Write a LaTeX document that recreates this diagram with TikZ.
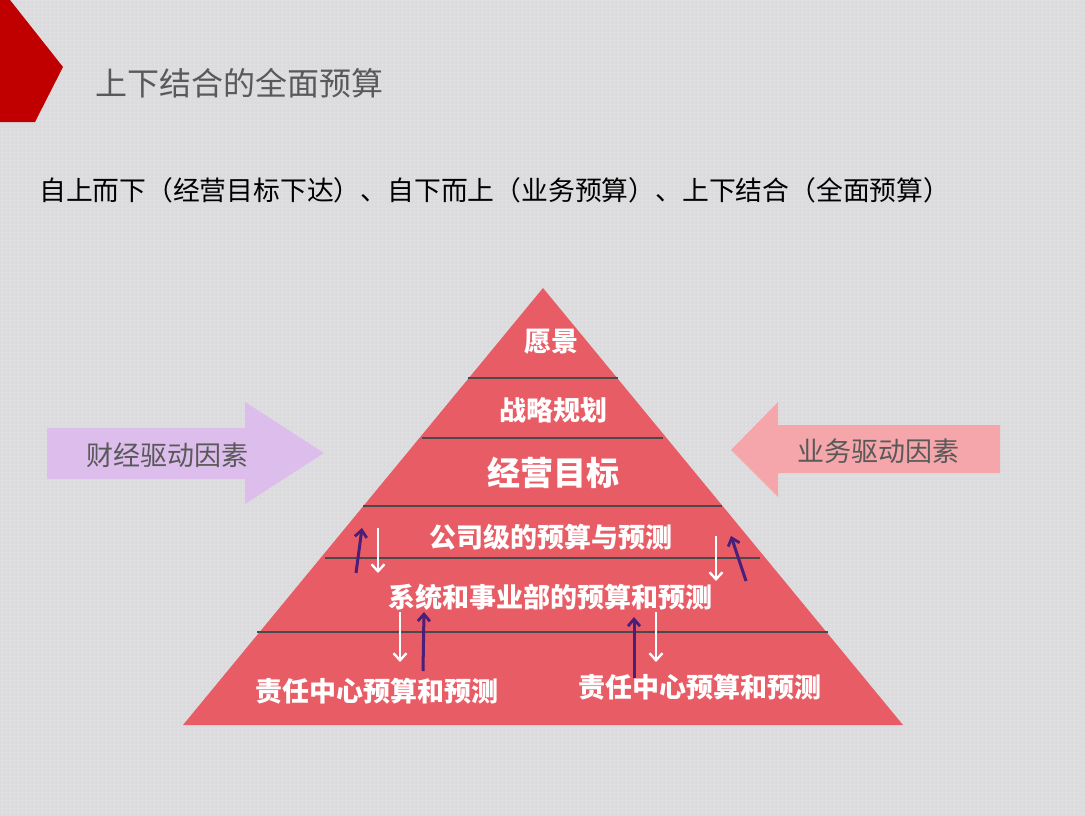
\documentclass[tikz,border=0pt]{standalone}
\usepackage{fontspec}
\setmainfont{Noto Sans CJK SC}
\usetikzlibrary{arrows.meta,patterns.meta}
\definecolor{bg}{HTML}{DCDCDE}
\definecolor{dotc}{HTML}{F2F2F4}
\definecolor{cornerred}{HTML}{C00000}
\definecolor{pyr}{HTML}{E85C66}
\definecolor{sepc}{HTML}{4A4A4C}
\definecolor{lav}{HTML}{DCBDEC}
\definecolor{pinkc}{HTML}{F4A6AA}
\definecolor{greytxt}{HTML}{595959}
\definecolor{upc}{HTML}{4B1E78}
\tikzset{
  sepline/.style={draw=sepc,line width=2pt},
  lvl/.style={text=white,font=\bfseries\fontsize{27}{30}\selectfont,inner sep=0pt},
  side/.style={text=greytxt,font=\fontsize{27}{30}\selectfont,inner sep=0pt},
  uparr/.style={draw=upc,line width=3pt,-{Straight Barb[length=7pt,width=12pt,line width=2.8pt]}},
  downarr/.style={draw=white,line width=2.4pt,-{Straight Barb[length=7pt,width=13pt,line width=2.4pt]}}
}
\begin{document}
\begin{tikzpicture}[x=1pt,y=-1pt]
\useasboundingbox (0,0) rectangle (1085,816);
\fill[bg] (0,0) rectangle (1085,816);
\fill[pattern={Dots[distance=4pt,radius=0.5pt]},pattern color=dotc] (0,0) rectangle (1085,816);
% corner
\fill[cornerred] (0,0) -- (10,0) -- (63,67) -- (35,122) -- (0,122) -- cycle;
% title
\node[anchor=west,text=greytxt,font=\fontsize{32}{36}\selectfont,inner sep=0pt] (title) at (95,83) {上下结合的全面预算};
\node[anchor=west,text=black,font=\fontsize{26.8}{30}\selectfont,inner sep=0pt] (sub) at (39,190) {自上而下（经营目标下达）、自下而上（业务预算）、上下结合（全面预算）};
% pyramid
\fill[pyr] (543,288) -- (903,725) -- (183,725) -- cycle;
\draw[sepline] (468,378) -- (618,378);
\draw[sepline] (422,438) -- (663,438);
\draw[sepline] (363,506) -- (722,506);
\draw[sepline] (325,558) -- (760,558);
\draw[sepline] (257,632) -- (828,632);
% labels
\node[lvl] (l1) at (551,342) {愿景};
\node[lvl] (l2) at (553,410) {战略规划};
\node[lvl,font=\bfseries\fontsize{33}{36}\selectfont] (l3) at (553,473) {经营目标};
\node[lvl] (l4) at (551,537) {公司级的预算与预测};
\node[lvl] (l5) at (550,597) {系统和事业部的预算和预测};
\node[lvl] (l6) at (377,691) {责任中心预算和预测};
\node[lvl] (l7) at (700,687) {责任中心预算和预测};
% side arrows
\fill[lav] (47,428) -- (245,428) -- (245,402) -- (324,453) -- (245,504) -- (245,479) -- (47,479) -- cycle;
\node[side] (fin) at (167,455) {财经驱动因素};
\fill[pinkc] (1000,425) -- (778,425) -- (778,402) -- (731,450) -- (778,497) -- (778,473) -- (1000,473) -- cycle;
\node[side] (biz) at (878,451) {业务驱动因素};
% small arrows
\coordinate (a1s) at (356,573); \coordinate (a1e) at (362,528);
\coordinate (a2s) at (378,528); \coordinate (a2e) at (378,573);
\coordinate (a3s) at (716,536); \coordinate (a3e) at (716,581);
\coordinate (a4s) at (746,581); \coordinate (a4e) at (731,536);
\coordinate (a5s) at (400,612); \coordinate (a5e) at (400,662);
\coordinate (a6s) at (423,671); \coordinate (a6e) at (424,612);
\coordinate (a7s) at (634,678); \coordinate (a7e) at (634,617);
\coordinate (a8s) at (656,612); \coordinate (a8e) at (656,662);
\draw[uparr] (a1s) -- (a1e);
\draw[downarr] (a2s) -- (a2e);
\draw[downarr] (a3s) -- (a3e);
\draw[uparr] (a4s) -- (a4e);
\draw[downarr] (a5s) -- (a5e);
\draw[uparr] (a6s) -- (a6e);
\draw[uparr] (a7s) -- (a7e);
\draw[downarr] (a8s) -- (a8e);
\end{tikzpicture}
\end{document}
